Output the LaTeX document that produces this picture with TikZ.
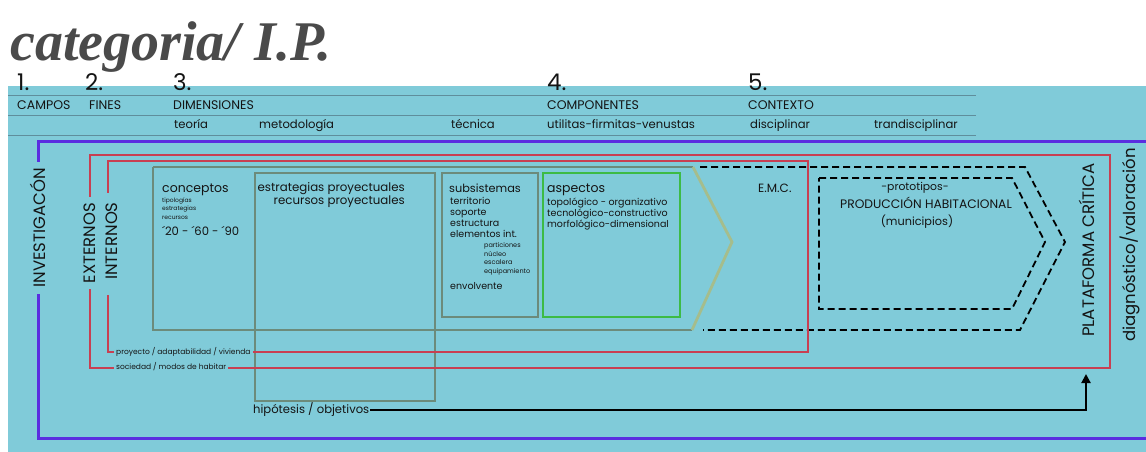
\documentclass[tikz,border=0pt]{standalone}
\usepackage{fontspec}
\setmainfont{Poppins}
\newfontfamily\handfont{Liberation Serif}
\usetikzlibrary{arrows.meta,positioning,calc}
\definecolor{bgcyan}{HTML}{80CBD9}
\definecolor{hlinec}{HTML}{5F8E9C}
\definecolor{bluec}{HTML}{5A2EE0}
\definecolor{redc}{HTML}{C83F52}
\definecolor{grayc}{HTML}{6C8B7B}
\definecolor{lgreenc}{HTML}{A5BD8C}
\definecolor{greenc}{HTML}{3DBB45}
\definecolor{txtc}{HTML}{141414}
\definecolor{handc}{HTML}{4A4A4A}
\tikzset{
  num/.style   ={anchor=base west, inner sep=0pt, text=txtc, font=\fontsize{23}{24}\selectfont},
  hdr/.style   ={anchor=base west, inner sep=0pt, text=txtc, font=\fontsize{11.6}{12}\selectfont},
  caps/.style  ={anchor=base west, inner sep=0pt, text=txtc, font=\fontsize{12.5}{13}\selectfont},
  ttl/.style   ={anchor=base west, inner sep=0pt, text=txtc, font=\fontsize{12.5}{14}\selectfont},
  lst/.style   ={anchor=base west, inner sep=0pt, text=txtc, align=left,
                 font=\fontsize{9.5}{10.7}\selectfont},
  tiny/.style  ={anchor=base west, inner sep=0pt, text=txtc, align=left,
                 font=\fontsize{6}{8.5}\selectfont},
  vlab/.style  ={rotate=90, fill=bgcyan, inner xsep=6pt, inner ysep=1pt, text=txtc,
                 font=\fontsize{16.5}{17}\selectfont},
  foot/.style  ={anchor=west, fill=bgcyan, inner xsep=2pt, inner ysep=1pt, text=txtc,
                 font=\fontsize{7.5}{8}\selectfont},
  hline/.style ={draw=hlinec, line width=0.9pt},
  bframe/.style={draw=bluec, line width=3pt},
  rframe/.style={draw=redc, line width=2pt},
  gbox/.style  ={draw=grayc, line width=2.8pt},
  dashc/.style ={draw=black, line width=1.8pt, dash pattern=on 7pt off 4pt},
  ar/.style    ={-{Triangle[length=9pt,width=9pt]}, line width=2pt, draw=black},
}

\begin{document}
\begin{tikzpicture}[x=1pt,y=-1pt]
\useasboundingbox (0,0) rectangle (1146,452);
\fill[bgcyan] (8,86) rectangle (1146,452);

% header rows
\foreach \yy in {95,115,135} \draw[hline] (8,\yy) -- (976,\yy);

\node[num] (n1) at (17,91) {1.};
\node[num] (n2) at (85,91) {2.};
\node[num] (n3) at (173,91) {3.};
\node[num] (n4) at (547,91) {4.};
\node[num] (n5) at (748,91) {5.};

\node[caps] (campos)   at (17,109)  {CAMPOS};
\node[caps] (fines)    at (89,109)  {FINES};
\node[caps] (dimen)    at (173,109) {DIMENSIONES};
\node[caps] (compo)    at (547,109) {COMPONENTES};
\node[caps] (contexto) at (748,109) {CONTEXTO};

\node[hdr] (teoria)   at (174,128) {teoría};
\node[hdr] (metodo)   at (259,128) {metodología};
\node[hdr] (tecnica)  at (451,128) {técnica};
\node[hdr] (utilitas) at (547,128) {utilitas-firmitas-venustas};
\node[hdr] (discip)   at (750,128) {disciplinar};
\node[hdr] (trandis)  at (874,128) {trandisciplinar};

% dimension boxes
\draw[gbox] (153,167) -- (693,167);
\draw[gbox] (692,330) -- (153,330) -- (153,167);
\draw[draw=lgreenc, line width=2.8pt] (693,167) -- (732,242) -- (692,330);
\draw[gbox] (255,173) rectangle (435,401);
\draw[gbox] (442,173) rectangle (538,317);
\draw[draw=greenc, line width=2.4pt] (543,173) rectangle (680,317);

% dashed chevrons
\draw[dashc] (700,167) -- (1025,167) -- (1065,242) -- (1020,330) -- (703,330);
\draw[dashc] (819,178) -- (1012,178) -- (1045,242) -- (1012,309) -- (819,309) -- cycle;

% frames
\draw[bframe] (1146,141) -| (38,438) -- (1146,438);
\draw[rframe] (90,155) rectangle (1110,368);
\draw[rframe] (108,161) rectangle (808,352);

\node[vlab] (invest) at (38,228)  {INVESTIGACÓN};
\node[vlab] (extern) at (90,243)  {EXTERNOS};
\fill[bgcyan] (104,193) rectangle (112,295);
\node[vlab, fill=none] (intern) at (112,241) {INTERNOS};

\node[foot] (proy) at (114,352) {proyecto / adaptabilidad / vivienda};
\node[foot] (soc)  at (114,367) {sociedad / modos de habitar};

% teoria
\node[ttl] (concep) at (162,192) {conceptos};
\node[tiny] (tipos) at (162,219) {tipologías\\estrategias\\recursos};
\node[ttl, font=\fontsize{11.6}{14}\selectfont] (decadas) at (162,235) {´20 - ´60 - ´90};

% metodologia
\node[ttl, align=right, anchor=north east, font=\fontsize{11.8}{13.5}\selectfont] (estrat)
  at (405,182) {estrategias proyectuales\\recursos proyectuales};

% tecnica
\node[ttl, font=\fontsize{11.3}{14}\selectfont] (subs) at (449,192) {subsistemas};
\node[lst] (subsl) at (450,237) {territorio\\soporte\\estructura\\elementos int.};
\node[tiny, font=\fontsize{6.5}{8.4}\selectfont] (elem) at (484,273)
  {particiones\\núcleo\\escalera\\equipamiento};
\node[lst] (envol) at (450,289) {envolvente};

% componentes
\node[ttl] (aspec) at (547,192) {aspectos};
\node[lst] (aspecl) at (547,227)
  {topológico - organizativo\\tecnológico-constructivo\\morfológico-dimensional};

% contexto
\node[ttl, font=\fontsize{12}{13}\selectfont] (emc) at (758,192) {E.M.C.};
\node[lst, anchor=base, font=\fontsize{10.8}{12}\selectfont] (proto) at (915,190) {-prototipos-};
\node[caps, anchor=base, font=\fontsize{12.3}{13}\selectfont] (prod) at (926,208)
  {PRODUCCIÓN HABITACIONAL};
\node[lst, anchor=base, font=\fontsize{11.3}{12}\selectfont] (munic) at (917,225) {(municipios)};

\node[rotate=90, inner sep=0pt, text=txtc, font=\fontsize{16.6}{17}\selectfont] (plat)
  at (1087,250) {PLATAFORMA CRÍTICA};
\node[rotate=90, inner sep=0pt, text=txtc, font=\fontsize{16.5}{17}\selectfont] (diag)
  at (1130,245) {diagnóstico/valoración};

\node[anchor=west, inner sep=1pt, text=txtc, font=\fontsize{11.6}{14}\selectfont] (hipo)
  at (252,410) {hipótesis / objetivos};
\coordinate (tip) at (1086,374);
\draw[ar] (hipo.east) -| (tip);

% title
\node[anchor=base west, inner sep=0pt, text=handc,
      font=\handfont\bfseries\itshape\fontsize{56}{56}\selectfont] (titulo)
  at (10,60) {categoria/ I.P.};

\end{tikzpicture}
\end{document}
